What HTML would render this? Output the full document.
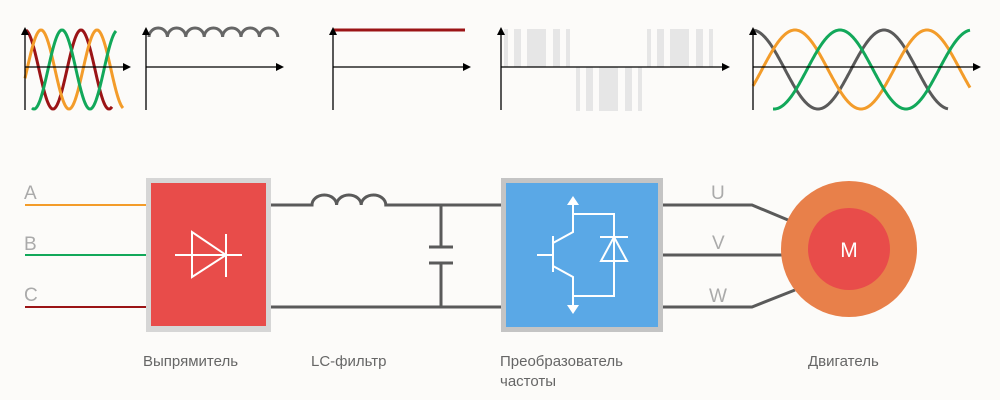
<!DOCTYPE html>
<html><head><meta charset="utf-8"><style>
html,body{margin:0;padding:0;background:#fcfbf9;}
svg{display:block;font-family:"Liberation Sans",sans-serif;}
</style></head><body>
<svg id="s" width="1000" height="400" viewBox="0 0 1000 400" xmlns="http://www.w3.org/2000/svg">
<defs><marker id="ar" markerWidth="8" markerHeight="8" refX="6" refY="4" orient="auto" markerUnits="userSpaceOnUse"><path d="M0,0 L8,4 L0,8 z" fill="#000"/></marker></defs>
<g fill="#e6e6e6">
<rect x="504" y="29" width="4" height="38"/><rect x="514" y="29" width="7" height="38"/><rect x="527" y="29" width="19" height="38"/><rect x="553" y="29" width="7" height="38"/><rect x="566" y="29" width="4" height="38"/>
<rect x="576" y="67" width="4" height="44"/><rect x="586" y="67" width="7" height="44"/><rect x="599" y="67" width="19" height="44"/><rect x="625" y="67" width="7" height="44"/><rect x="638" y="67" width="4" height="44"/>
<rect x="647" y="29" width="4" height="38"/><rect x="657" y="29" width="7" height="38"/><rect x="670" y="29" width="19" height="38"/><rect x="696" y="29" width="7" height="38"/><rect x="709" y="29" width="4" height="38"/>
</g>
<g id="waves" fill="none" stroke-width="3"></g>
<path d="M149,37 a9.2,9 0 0 1 18.4,0 a9.2,9 0 0 1 18.4,0 a9.2,9 0 0 1 18.4,0 a9.2,9 0 0 1 18.4,0 a9.2,9 0 0 1 18.4,0 a9.2,9 0 0 1 18.4,0 a9.2,9 0 0 1 18.4,0" fill="none" stroke="#666" stroke-width="3"/>
<line x1="333" y1="30" x2="465" y2="30" stroke="#9b1416" stroke-width="3"/>
<g stroke="#000" stroke-width="1.3">
<line x1="25" y1="110" x2="25" y2="29" marker-end="url(#ar)"/><line x1="25" y1="67" x2="129" y2="67" marker-end="url(#ar)"/>
<line x1="146" y1="110" x2="146" y2="29" marker-end="url(#ar)"/><line x1="146" y1="67" x2="282" y2="67" marker-end="url(#ar)"/>
<line x1="333" y1="110" x2="333" y2="29" marker-end="url(#ar)"/><line x1="333" y1="67" x2="469" y2="67" marker-end="url(#ar)"/>
<line x1="501" y1="110" x2="501" y2="29" marker-end="url(#ar)"/><line x1="501" y1="67" x2="728" y2="67" marker-end="url(#ar)"/>
<line x1="753" y1="110" x2="753" y2="29" marker-end="url(#ar)"/><line x1="753" y1="67" x2="979" y2="67" marker-end="url(#ar)"/>
</g>
<line x1="25" y1="205" x2="146" y2="205" stroke="#f39c2a" stroke-width="2"/>
<line x1="25" y1="255" x2="146" y2="255" stroke="#12a85a" stroke-width="2"/>
<line x1="25" y1="307" x2="146" y2="307" stroke="#9b1416" stroke-width="2"/>
<g fill="#aaa" font-size="19"><text x="24" y="199">A</text><text x="24" y="250">B</text><text x="24" y="301">C</text>
<text x="711" y="199">U</text><text x="712" y="249">V</text><text x="709" y="302">W</text></g>
<rect x="146" y="178" width="125" height="154" fill="#d6d6d6"/><rect x="151" y="183" width="115" height="143" fill="#e84c4a"/>
<g stroke="#fff" stroke-width="2" fill="none"><line x1="175" y1="255" x2="242" y2="255"/><path d="M192,232 L192,277 L226,255 z"/><line x1="226" y1="234" x2="226" y2="277"/></g>
<g stroke="#5a5a5a" stroke-width="3" fill="none">
<path d="M271,205 H312 a12.3,10 0 0 1 24.6,0 a12.3,10 0 0 1 24.6,0 a12.3,10 0 0 1 24.6,0 H501"/>
<line x1="271" y1="307" x2="501" y2="307"/>
<path d="M441,205 V247 M429,247 H453 M429,263 H453 M441,263 V307"/>
<path d="M663,205 H752 L788,220 M663,255 H782 M663,307 H752 L795,290"/>
</g>
<rect x="501" y="178" width="162" height="154" fill="#c4c4c4"/><rect x="506" y="183" width="152" height="144" fill="#5aa8e6"/>
<g stroke="#fff" stroke-width="2" fill="none">
<path d="M537,255 H553 M553,236 V272 M553,243 L573,232 V201 M553,266 L573,277 V306 M573,214 H614 V296 H573 M600,237 H628 M614,237 L601,261 H627 z"/>
</g>
<path d="M573,196 L567,205 H579 z M573,314 L567,305 H579 z" fill="#fff"/>
<circle cx="849" cy="249" r="68" fill="#e8804a"/><circle cx="849" cy="249" r="41" fill="#e84c4a"/>
<text x="849" y="257" fill="#fff" font-size="21" text-anchor="middle">M</text>
<g fill="#666" font-size="15"><text x="143" y="366">Выпрямитель</text><text x="311" y="366">LC-фильтр</text><text x="500" y="366">Преобразователь</text><text x="500" y="386">частоты</text><text x="808" y="366">Двигатель</text></g>
</svg>
<script>
var g=document.getElementById('waves');
function w(x0,x1,per,ph,col,cy,amp){var d='';for(var x=x0;x<=x1;x+=1){var y=cy-amp*Math.cos(2*Math.PI*(x-ph)/per);d+=(d?'L':'M')+x.toFixed(1)+','+y.toFixed(1);}
var p=document.createElementNS('http://www.w3.org/2000/svg','path');p.setAttribute('d',d);p.setAttribute('stroke',col);g.appendChild(p);}
w(26,112,56,25,'#9b1416',69.5,39.5);
w(25,123,56,41,'#f39c2a',69.5,39.5);
w(32,116,56,62,'#12a85a',69.5,39.5);
w(754,948,132,752,'#5a5a5a',69.5,39.5);
w(753,970,132,795,'#f39c2a',69.5,39.5);
w(773,970,132,840,'#12a85a',69.5,39.5);
</script>
</body></html>
